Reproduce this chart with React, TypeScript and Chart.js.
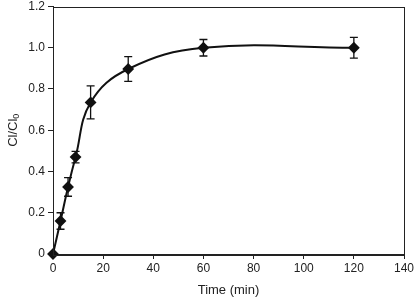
import React, { useEffect, useRef } from "react";
import { Chart, registerables } from "chart.js";

Chart.register(...registerables);

const times = [0, 3, 6, 9, 15, 30, 60, 120];
const ratios = [0, 0.16, 0.325, 0.47, 0.735, 0.897, 1.0, 1.0];
const errors = [0, 0.04, 0.045, 0.028, 0.08, 0.06, 0.04, 0.05];
const xTicks = [0, 20, 40, 60, 80, 100, 120, 140];
const yTicks = [0, 0.2, 0.4, 0.6, 0.8, 1.0, 1.2];

const FONT = "'Liberation Sans', Arial, sans-serif";

const errorBarPlugin = {
  id: "errorBars",
  afterDatasetsDraw(chart: any) {
    const ctx = chart.ctx;
    const xs = chart.scales.x;
    const ys = chart.scales.y;
    ctx.save();
    ctx.strokeStyle = "#111";
    ctx.lineWidth = 1.3;
    times.forEach((t, i) => {
      const e = errors[i];
      if (!e) return;
      const px = xs.getPixelForValue(t);
      const top = ys.getPixelForValue(ratios[i] + e);
      const bot = ys.getPixelForValue(ratios[i] - e);
      ctx.beginPath();
      ctx.moveTo(px, top);
      ctx.lineTo(px, bot);
      ctx.moveTo(px - 4, top);
      ctx.lineTo(px + 4, top);
      ctx.moveTo(px - 4, bot);
      ctx.lineTo(px + 4, bot);
      ctx.stroke();
    });
    ctx.restore();
  },
};

const boxPlugin = {
  id: "boxFrame",
  afterDraw(chart: any) {
    const { ctx, chartArea } = chart;
    ctx.save();
    ctx.strokeStyle = "#222";
    ctx.lineWidth = 1;
    ctx.strokeRect(
      Math.round(chartArea.left) + 0.5,
      Math.round(chartArea.top) + 0.5,
      Math.round(chartArea.right - chartArea.left),
      Math.round(chartArea.bottom - chartArea.top)
    );
    // y-axis title with subscript
    const cy = (chartArea.top + chartArea.bottom) / 2;
    ctx.translate(13, cy);
    ctx.rotate(-Math.PI / 2);
    ctx.fillStyle = "#222";
    ctx.textBaseline = "middle";
    const main = "Cl/Cl";
    ctx.font = `13px ${FONT}`;
    const w1 = ctx.measureText(main).width;
    ctx.font = `9px ${FONT}`;
    const w2 = ctx.measureText("0").width;
    const start = -(w1 + w2) / 2;
    ctx.font = `13px ${FONT}`;
    ctx.textAlign = "left";
    ctx.fillText(main, start, 0);
    ctx.font = `9px ${FONT}`;
    ctx.fillText("0", start + w1, 4);
    ctx.restore();
  },
};

export default function App() {
  const ref = useRef<HTMLCanvasElement>(null);
  useEffect(() => {
    document.body.style.margin = "0";
    const chart = new Chart(ref.current as HTMLCanvasElement, {
      type: "line",
      data: {
        datasets: [
          {
            data: times.map((t, i) => ({ x: t, y: ratios[i] })),
            borderColor: "#111",
            backgroundColor: "#111",
            borderWidth: 2,
            tension: 0.4,
            pointStyle: "rectRot",
            pointRadius: 4.5,
            pointBackgroundColor: "#111",
            pointBorderColor: "#111",
            clip: false,
          },
        ],
      },
      options: {
        animation: false,
        responsive: false,
        layout: { padding: { top: 5, right: 11, left: 0, bottom: 0 } },
        plugins: {
          legend: { display: false },
          tooltip: { enabled: false },
        },
        scales: {
          x: {
            type: "linear",
            min: 0,
            max: 140,
            afterBuildTicks: (s: any) => {
              s.ticks = xTicks.map((v) => ({ value: v }));
            },
            afterFit: (s: any) => {
              s.height = 44;
              s.paddingLeft = 0;
              s.paddingRight = 0;
            },
            grid: { display: true, drawOnChartArea: false, tickLength: 5, color: "#222" },
            border: { display: true, color: "#222", width: 1 },
            ticks: { color: "#222", font: { family: FONT, size: 12 }, padding: 2, maxRotation: 0 },
            title: {
              display: true,
              text: "Time (min)",
              color: "#222",
              font: { family: FONT, size: 13 },
              padding: { top: 2, bottom: 0 },
            },
          },
          y: {
            type: "linear",
            min: 0,
            max: 1.2,
            afterBuildTicks: (s: any) => {
              s.ticks = yTicks.map((v) => ({ value: v }));
            },
            afterFit: (s: any) => {
              s.width = 53;
              s.paddingTop = 0;
              s.paddingBottom = 0;
            },
            grid: { display: true, drawOnChartArea: false, tickLength: 5, color: "#222" },
            border: { display: true, color: "#222", width: 1 },
            ticks: {
              color: "#222",
              font: { family: FONT, size: 12 },
              padding: 3,
              callback: (v: any) => (Number(v) === 0 ? "0" : Number(v).toFixed(1)),
            },
          },
        },
      },
      plugins: [errorBarPlugin, boxPlugin],
    });
    return () => chart.destroy();
  }, []);
  return <canvas ref={ref} width={415} height={298} style={{ display: "block" }} />;
}
